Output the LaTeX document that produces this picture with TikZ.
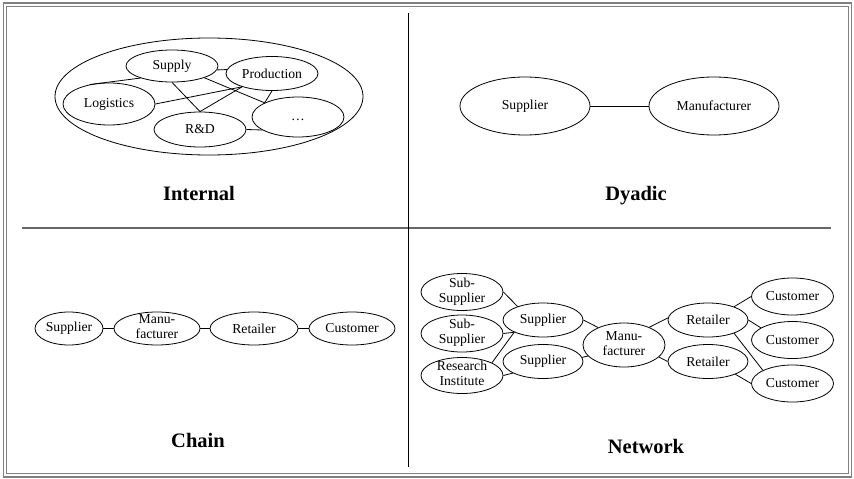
\documentclass[tikz,border=0pt]{standalone}
\usepackage{fontspec}
\setmainfont{Liberation Serif}
\usetikzlibrary{shapes.geometric}
\newcommand\twoline[2]{\raisebox{-0.25em}[0pt][0pt]{\begin{tabular}{@{}c@{}}#1\\#2\end{tabular}}}
\begin{document}
\begin{tikzpicture}[x=1pt, y=-1pt, line width=0.8pt,
  ov/.style={draw, ellipse, inner sep=0pt, font=\fontsize{13.7}{15}\selectfont},
  ttl/.style={anchor=base, font=\fontsize{20.5}{24}\selectfont\bfseries},
  frm/.style={draw=black!50, line width=1.4pt}]
\path[use as bounding box] (0,0) rectangle (854,479);
% frame
\draw[frm] (3.2,3) rectangle (851.5,477);
\draw[frm] (6.6,6.3) rectangle (848.3,473.3);
% dividers
\draw[black!60, line width=1.2pt] (22,228) -- (831,228);
\draw[line width=0.9pt] (408,13) -- (408,467);

% Internal
\node[ov, minimum width=308, minimum height=117] (org) at (209,96.5) {};
\node[ov, minimum width=92, minimum height=32] (sup) at (172,66) {Supply};
\node[ov, minimum width=92, minimum height=34] (prod) at (272,73.5) {Production};
\node[ov, minimum width=92, minimum height=42] (log) at (109,104) {Logistics};
\node[ov, minimum width=92, minimum height=35] (rd) at (200,129.5) {R\&D};
\node[ov, minimum width=92, minimum height=40] (etc) at (298,117) {\vphantom{Ag}\ldots};
\draw (sup.201) -- (log.135);
\draw (sup.south) -- (rd.north);
\draw (sup.-20) -- (etc.157);
\draw (sup.-5) -- (prod.175);
\draw (prod.204) -- (log.east);
\draw (prod.204) -- (rd.north);
\draw (prod.south) -- (etc.157);
\draw (rd.east) -- (etc.200);
\node[ttl] (t1) at (199,200) {Internal};

% Dyadic
\node[ov, minimum width=130, minimum height=58] (dsl) at (525,106) {Supplier};
\node[ov, minimum width=130, minimum height=58] (dmf) at (714,106) {Manufacturer};
\draw (dsl) -- (dmf);
\node[ttl] (t2) at (636,200) {Dyadic};

% Chain
\node[ov, minimum width=68, minimum height=33] (c1) at (69,328.5) {Supplier};
\node[ov, minimum width=86, minimum height=33] (c2) at (157,328.5) {\twoline{Manu-}{facturer}};
\node[ov, minimum width=88, minimum height=33] (c3) at (254,328.5) {Retailer};
\node[ov, minimum width=86, minimum height=33] (c4) at (352,328.5) {Customer};
\draw (c1) -- (c2);
\draw (c2) -- (c3);
\draw (c3) -- (c4);
\node[ttl] (t3) at (198,447) {Chain};

% Network
\node[ov, minimum width=82, minimum height=37] (ss1) at (462,292) {\twoline{Sub-}{Supplier}};
\node[ov, minimum width=82, minimum height=37] (ss2) at (462,333.5) {\twoline{Sub-}{Supplier}};
\node[ov, minimum width=82, minimum height=36] (ri) at (462,375.5) {\twoline{Research}{Institute}};
\node[ov, minimum width=80, minimum height=34] (s1) at (543,320) {Supplier};
\node[ov, minimum width=80, minimum height=34] (s2) at (543,361.5) {Supplier};
\node[ov, minimum width=82, minimum height=44] (mn) at (624,345) {\twoline{Manu-}{facturer}};
\node[ov, minimum width=80, minimum height=34] (r1) at (708,320) {Retailer};
\node[ov, minimum width=80, minimum height=34] (r2) at (708,361.5) {Retailer};
\node[ov, minimum width=82, minimum height=37] (cu1) at (792.5,296.5) {Customer};
\node[ov, minimum width=82, minimum height=37] (cu2) at (792.5,340) {Customer};
\node[ov, minimum width=82, minimum height=37] (cu3) at (792.5,383.5) {Customer};
\draw (ss1.east) -- (s1.152);
\draw (ss2.east) -- (s1.203);
\draw (ri.23) -- (s1.203);
\draw (ri.east) -- (s2.201);
\draw (s1.east) -- (mn.146);
\draw (s2.6) -- (mn.197);
\draw (mn.35) -- (r1.177);
\draw (mn.-19) -- (r2.west);
\draw (r1.27) -- (cu1.west);
\draw (r1.east) -- (cu2.159);
\draw (r1.-27) -- (cu3.156);
\draw (r2.-25) -- (cu3.west);
\node[ttl] (t4) at (646,453) {Network};
\end{tikzpicture}
\end{document}
